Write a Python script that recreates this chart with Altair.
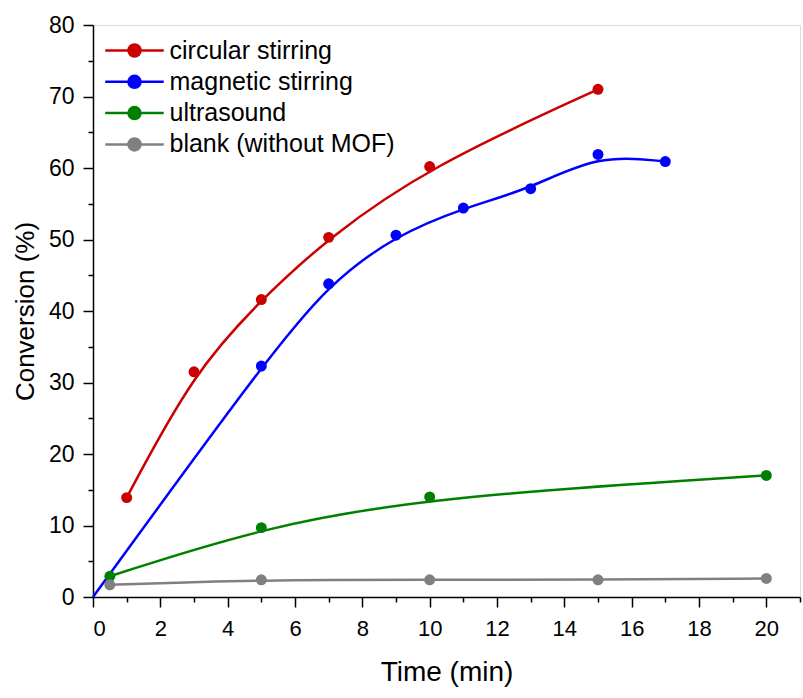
import altair as alt
import pandas as pd

# ---- data ----
circ_time = [1, 3, 5, 7, 10, 15]
circ_conv = [13.9, 31.5, 41.6, 50.3, 60.2, 71.0]

mag_time = [0, 5, 7, 9, 11, 13, 15, 17]
mag_conv = [0.0, 32.3, 43.8, 50.6, 54.4, 57.1, 61.9, 60.9]
mag_marker = [False, True, True, True, True, True, True, True]

ultra_time = [0.5, 5, 10, 20]
ultra_conv = [2.9, 9.7, 14.0, 17.0]

blank_time = [0.5, 5, 10, 15, 20]
blank_conv = [1.7, 2.4, 2.4, 2.4, 2.6]

series_names = ["circular stirring", "magnetic stirring", "ultrasound", "blank (without MOF)"]
series_colors = ["#CC0000", "#0000FF", "#008000", "#808080"]

x_ticks = list(range(0, 22))
y_ticks = list(range(0, 85, 5))

rows = []
for name, ts, cs, ms in [
    (series_names[0], circ_time, circ_conv, [True] * len(circ_time)),
    (series_names[1], mag_time, mag_conv, mag_marker),
    (series_names[2], ultra_time, ultra_conv, [True] * len(ultra_time)),
    (series_names[3], blank_time, blank_conv, [True] * len(blank_time)),
]:
    for t, c, m in zip(ts, cs, ms):
        rows.append({"series": name, "time": t, "conv": c, "marker": m})
df = pd.DataFrame(rows)

FONT = "Liberation Sans"

color_scale = alt.Scale(domain=series_names, range=series_colors)

x_enc = alt.X(
    "time:Q",
    scale=alt.Scale(domain=[0, 21], nice=False, zero=False),
    axis=alt.Axis(
        title="Time (min)",
        values=x_ticks,
        labelExpr="datum.value % 2 == 0 ? datum.label : ''",
        labelOverlap=False,
        labelFont=FONT,
        labelFontSize=22,
        labelColor="black",
        labelPadding=11,
        titleFont=FONT,
        titleFontSize=28,
        titleFontWeight="normal",
        titleColor="black",
        titlePadding=19,
        tickColor="black",
        tickWidth=1.5,
        tickSize={"condition": {"test": "datum.value % 2 != 0", "value": 5}, "value": 10},
        domainColor="black",
        domainWidth=1.5,
        grid=False,
    ),
)
y_enc = alt.Y(
    "conv:Q",
    scale=alt.Scale(domain=[0, 80], nice=False),
    axis=alt.Axis(
        title="Conversion (%)",
        values=y_ticks,
        labelExpr="datum.value % 10 == 0 ? datum.label : ''",
        labelOverlap=False,
        labelFont=FONT,
        labelFontSize=23,
        labelColor="black",
        labelPadding=9,
        titleFont=FONT,
        titleFontSize=26,
        titleFontWeight="normal",
        titleColor="black",
        titlePadding=10,
        tickColor="black",
        tickWidth=1.5,
        tickSize={"condition": {"test": "datum.value % 10 != 0", "value": 5}, "value": 10},
        domainColor="black",
        domainWidth=1.5,
        grid=False,
    ),
)

# line + dot legend glyph (unit scale = sqrt(symbolSize)/2 = 12.5 px)
legend_symbol = "M-2.34,0H2.34M-0.48,0A0.48,0.48,0,1,1,0.48,0A0.48,0.48,0,1,1,-0.48,0Z"
legend = alt.Legend(
    title=None,
    orient="none",
    legendX=27.5,
    legendY=11.5,
    symbolType=legend_symbol,
    symbolSize=625,
    symbolStrokeWidth=2.5,
    labelFont=FONT,
    labelFontSize=25,
    labelColor="black",
    labelOffset=21,
    labelLimit=500,
    rowPadding=4.3,
    padding=0,
)

color_enc = alt.Color("series:N", scale=color_scale, sort=series_names, legend=legend)

lines = alt.Chart(df).mark_line(interpolate="basis", strokeWidth=2.5).encode(
    x=x_enc,
    y=y_enc,
    color=color_enc,
    detail="series:N",
)

points = alt.Chart(df).transform_filter("datum.marker").mark_point(
    filled=True, size=120, opacity=1, shape="circle"
).encode(
    x=x_enc,
    y=y_enc,
    color=color_enc,
)

chart = (
    alt.layer(lines, points)
    .properties(
        width=707,
        height=572,
        autosize="none",
        padding={"left": 93, "top": 25, "right": 3, "bottom": 101},
    )
    .configure_view(stroke="black", strokeWidth=1.5)
    .configure(background="white")
)

chart.save("out.html", embed_options={"renderer": "svg", "actions": False})
